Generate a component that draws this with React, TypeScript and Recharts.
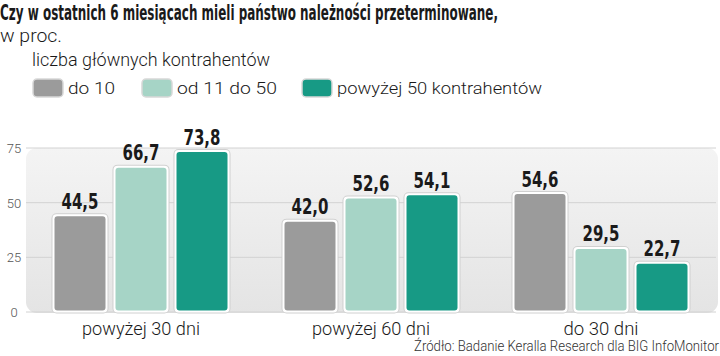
import React from "react";
import { BarChart, Bar, XAxis, YAxis, CartesianGrid, LabelList, ReferenceArea, Legend } from "recharts";

const categories = ["powyżej 30 dni", "powyżej 60 dni", "do 30 dni"];
const seriesNames = ["do 10", "od 11 do 50", "powyżej 50 kontrahentów"];
const do10 = [44.5, 42.0, 54.6];
const od11do50 = [66.7, 52.6, 29.5];
const powyzej50 = [73.8, 54.1, 22.7];
const yTicks = [0, 25, 50, 75];

const title = "Czy w ostatnich 6 miesiącach mieli państwo należności przeterminowane,";
const subtitle = "w proc.";
const legendTitle = "liczba głównych kontrahentów";
const source = "Źródło: Badanie Keralla Research dla BIG InfoMonitor";

const colors = ["#9b9b9b", "#a6d4c6", "#179a85"];
const keys = ["a", "b", "c"];

const data = categories.map((name, i) => ({
  name,
  a: do10[i],
  b: od11do50[i],
  c: powyzej50[i],
}));

const LIGHT = "Roboto, 'Liberation Sans', sans-serif";
const NARROW = "'DejaVu Sans Condensed', 'Liberation Sans Narrow', 'Roboto', sans-serif";

const fmt = (v: number) => v.toFixed(1).replace(".", ",");

const BgShape = (props: any) => {
  const { x, y, width, height } = props;
  return (
    <g>
      <defs>
        <linearGradient id="bgGrad" x1="0" y1="0" x2="0" y2="1">
          <stop offset="0%" stopColor="#f4f4f4" />
          <stop offset="100%" stopColor="#e4e4e4" />
        </linearGradient>
      </defs>
      <rect x={x} y={y} width={width + 2} height={height + 1} rx={11} ry={11} fill="url(#bgGrad)" />
    </g>
  );
};

const BarShape = (props: any) => {
  const { x, y, width, height, fill } = props;
  if (!height || height <= 0) return null;
  return (
    <g>
      <rect x={x - 1.5} y={y - 1.5} width={width + 3} height={height + 3} rx={5} ry={5} fill="#d0d0d0" />
      <rect x={x - 0.5} y={y - 0.5} width={width + 1} height={height + 1} rx={4} ry={4} fill="#ffffff" />
      <rect x={x + 1.5} y={y + 1.5} width={width - 3} height={height - 3} rx={3} ry={3} fill={fill} />
    </g>
  );
};

const ValueLabel = (props: any) => {
  const { x, y, width, value } = props;
  return (
    <text x={x + width / 2} y={y - 6} textAnchor="middle" fontFamily={NARROW} fontWeight={700} fontSize={21}
      fill="#1a1a1a" textLength={37} lengthAdjust="spacingAndGlyphs">
      {fmt(Number(value))}
    </text>
  );
};

const catWidths = [118, 118, 75];

const XTick = (props: any) => {
  const { x, y, payload, index } = props;
  return (
    <text x={x} y={y + 15} textAnchor="middle" fontFamily={LIGHT} fontWeight={300} fontSize={18} fill="#1a1a1a"
      textLength={catWidths[index] ?? undefined} lengthAdjust="spacingAndGlyphs">
      {payload.value}
    </text>
  );
};

const YTick = (props: any) => {
  const { y, payload } = props;
  return (
    <text x={14} y={y + 5} textAnchor="middle" fontFamily={LIGHT} fontWeight={300} fontSize={13} fill="#555">
      {payload.value}
    </text>
  );
};

const legendTextWidths = [47, 100, 205];
const legendXs = [33, 142, 302];

const LegendContent = (props: any) => {
  const payload = props.payload || [];
  return (
    <svg width={720} height={24} style={{ display: "block" }}>
      {payload.map((p: any, i: number) => (
        <g key={i}>
          <rect x={legendXs[i]} y={2} width={30} height={18} rx={4} ry={4} fill={p.color} stroke="#d8d8d8" strokeWidth={1.5} />
          <text x={legendXs[i] + 35} y={17} fontFamily={LIGHT} fontWeight={300} fontSize={17} fill="#1a1a1a"
            textLength={legendTextWidths[i]} lengthAdjust="spacingAndGlyphs">
            {p.value}
          </text>
        </g>
      ))}
    </svg>
  );
};

export default function App() {
  return (
    <div style={{ position: "absolute", left: 0, top: 0, width: 720, height: 356, background: "#fff", overflow: "hidden" }}>
      <BarChart
        width={720}
        height={356}
        data={data}
        margin={{ top: 124, right: 4, bottom: 14, left: 0 }}
        barSize={54}
        barGap={7}
        barCategoryGap={26}
      >
        <ReferenceArea y1={0} y2={75} ifOverflow="extendDomain" shape={<BgShape />} zIndex={-200} />
        <CartesianGrid vertical={false} stroke="#d2d2d2" strokeWidth={1} />
        <XAxis dataKey="name" axisLine={false} tickLine={false} height={30} tick={<XTick />} interval={0} />
        <YAxis domain={[0, 75]} ticks={yTicks} axisLine={false} tickLine={false} width={26} tick={<YTick />} />
        <Legend
          verticalAlign="top"
          content={<LegendContent />}
          wrapperStyle={{ position: "absolute", top: 77, left: 0, width: 720 }}
        />
        {keys.map((k, i) => (
          <Bar key={k} dataKey={k} name={seriesNames[i]} fill={colors[i]} isAnimationActive={false} shape={<BarShape />}>
            <LabelList dataKey={k} content={<ValueLabel />} />
          </Bar>
        ))}
      </BarChart>
      <svg width={720} height={356} style={{ position: "absolute", left: 0, top: 0, pointerEvents: "none" }}>
        <text x={0} y={20} fontFamily={NARROW} fontWeight={700} fontSize={22} fill="#1a1a1a" textLength={498} lengthAdjust="spacingAndGlyphs">
          {title}
        </text>
        <text x={0} y={42} fontFamily={LIGHT} fontWeight={300} fontSize={18} fill="#1a1a1a" textLength={62} lengthAdjust="spacingAndGlyphs">
          {subtitle}
        </text>
        <text x={32} y={66} fontFamily={LIGHT} fontWeight={300} fontSize={18} fill="#1a1a1a" textLength={238} lengthAdjust="spacingAndGlyphs">
          {legendTitle}
        </text>
        <text x={719} y={351} textAnchor="end" fontFamily={LIGHT} fontWeight={300} fontSize={14} fill="#333" textLength={305} lengthAdjust="spacingAndGlyphs">
          {source}
        </text>
      </svg>
    </div>
  );
}
